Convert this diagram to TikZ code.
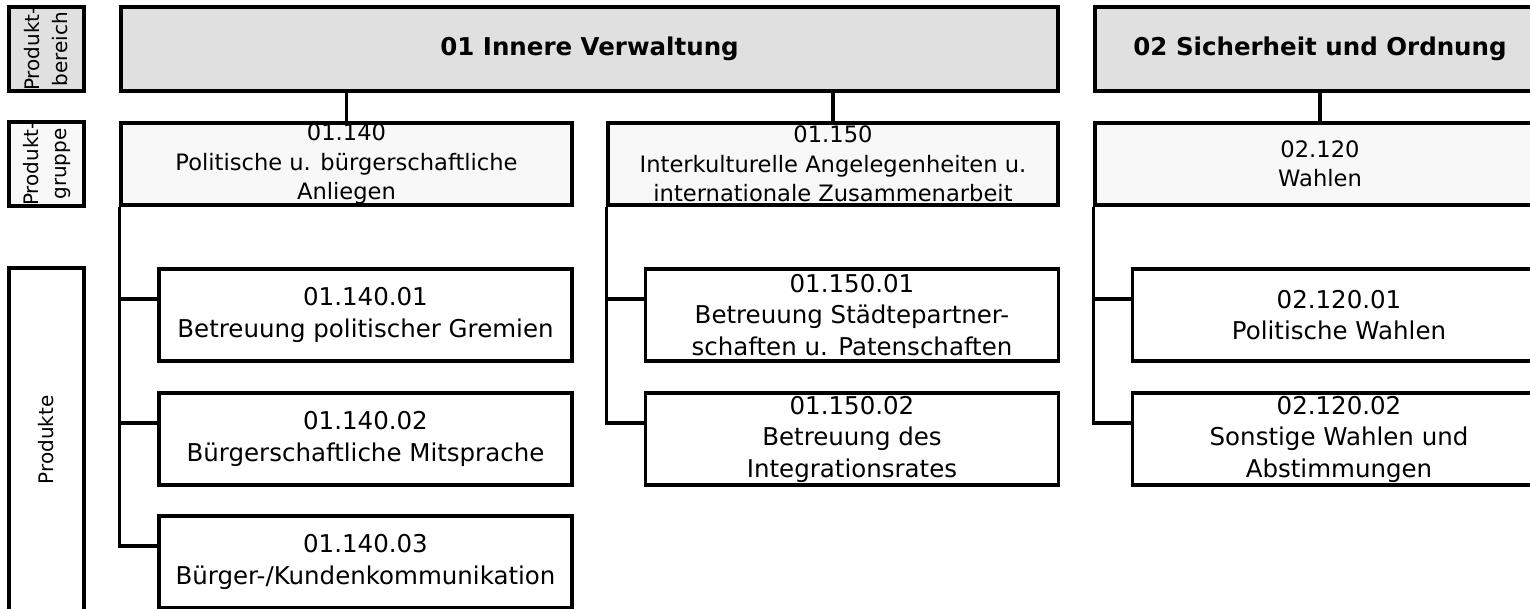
\documentclass[tikz,border=0pt]{standalone}
\usepackage{fontspec}
\setmainfont{DejaVu Sans}
\usetikzlibrary{calc}
\definecolor{bereichgrau}{HTML}{E0E0E0}
\definecolor{gruppengrau}{HTML}{F8F8F8}
\def\textpb{\fontsize{24.5}{30}\selectfont\bfseries}
\def\textpg{\fontsize{22.6}{29.3}\selectfont}
\def\textpr{\fontsize{24.5}{31.5}\selectfont}
\def\textkl{\fontsize{20}{28}\selectfont}
\tikzset{
	kasten/.style={draw, line width=3.3pt, inner sep=0pt, align=center},
	bereich/.style={kasten, fill=bereichgrau, font=\textpb, minimum height=84pt},
	gruppe/.style={kasten, fill=gruppengrau, font=\textpg, minimum height=82pt},
	produkt/.style={kasten, fill=white, font=\textpr, minimum width=413pt, minimum height=92pt},
	ebene/.style={kasten, rotate=90, font=\textkl, minimum height=75pt},
	linie/.style={line width=3.3pt}
}

\begin{document}
\begin{tikzpicture}[x=1pt, y=-1pt]
	%%%%% START %%%%%
	
	\useasboundingbox (0, 0) rectangle (1530, 609);
	\clip (0, 0) rectangle (1530, 609);
	
	% ebenen links
	\node[ebene, fill=bereichgrau, minimum width=84pt] (ebBereich) at (46.5, 49) {Produkt-\\bereich};
	\node[ebene, fill=gruppengrau, minimum width=82pt] (ebGruppe) at (46.5, 164) {Produkt-\\gruppe};
	\node[ebene, fill=white, minimum width=344pt] (ebProdukte) at (46.5, 440) {Produkte};
	
	% produktbereiche
	\node[bereich, minimum width=937pt] (pb01) at (589.5, 49) {01 Innere Verwaltung};
	\node[bereich, minimum width=450pt] (pb02) at (1320, 49) {02 Sicherheit und Ordnung};
	
	% produktgruppen
	\node[gruppe, minimum width=451pt] (pg140) at (346.5, 164) {01.140\\Politische u. bürgerschaftliche\\Anliegen};
	\node[gruppe, minimum width=450pt] (pg150) at (833, 164) {01.150\\Interkulturelle Angelegenheiten u.\\internationale Zusammenarbeit};
	\node[gruppe, minimum width=450pt] (pg120) at (1320, 164) {02.120\\Wahlen};
	
	% produkte
	\node[produkt] (p14001) at (365.5, 315) {01.140.01\\Betreuung politischer Gremien};
	\node[produkt] (p14002) at (365.5, 439) {01.140.02\\Bürgerschaftliche Mitsprache};
	\node[produkt] (p14003) at (365.5, 562) {01.140.03\\Bürger-/Kundenkommunikation};
	
	\node[produkt] (p15001) at (852, 315) {01.150.01\\Betreuung Städtepartner-\\schaften u. Patenschaften};
	\node[produkt] (p15002) at (852, 439) {01.150.02\\Betreuung des\\Integrationsrates};
	
	\node[produkt] (p12001) at (1339, 315) {02.120.01\\Politische Wahlen};
	\node[produkt] (p12002) at (1339, 439) {02.120.02\\Sonstige Wahlen und\\Abstimmungen};
	
	% verbindungen
	\draw[linie] (pg140.north) -- (pg140.north |- pb01.south);
	\draw[linie] (pg150.north) -- (pg150.north |- pb01.south);
	\draw[linie] (pg120.north) -- (pg120.north |- pb02.south);
	
	\draw[linie] (pg140.south west) |- ([yshift=16pt]p14003.west);
	\draw[linie] (pg140.south west) |- ([yshift=16pt]p14001.west);
	\draw[linie] (pg140.south west) |- ([yshift=16pt]p14002.west);
	
	\draw[linie] (pg150.south west) |- ([yshift=16pt]p15002.west);
	\draw[linie] (pg150.south west) |- ([yshift=16pt]p15001.west);
	
	\draw[linie] (pg120.south west) |- ([yshift=16pt]p12002.west);
	\draw[linie] (pg120.south west) |- ([yshift=16pt]p12001.west);
	
	%%%%% END %%%%%
\end{tikzpicture}
\end{document}
